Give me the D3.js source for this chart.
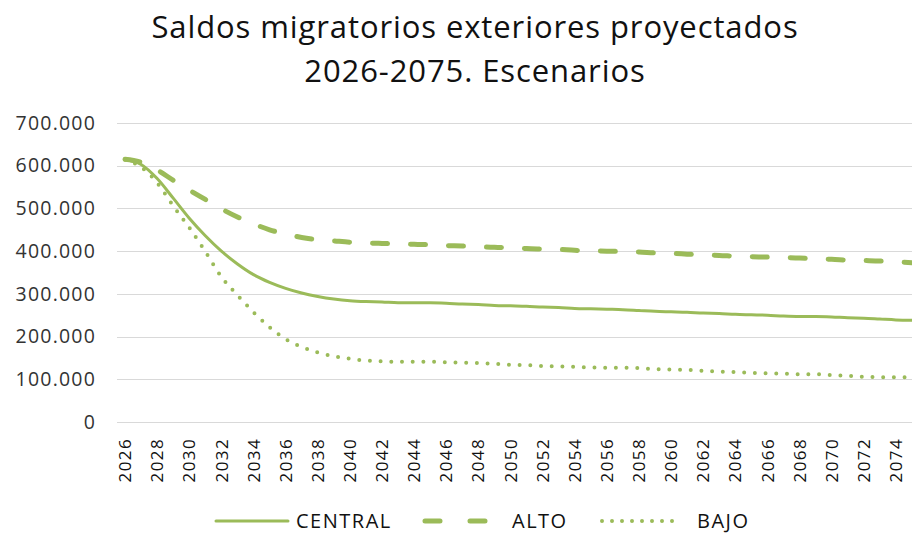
<!DOCTYPE html>
<html>
<head>
<meta charset="utf-8">
<script src="https://cdn.jsdelivr.net/npm/d3@7"></script>
<style>
  html, body { margin: 0; padding: 0; background: #fff; }
  svg { display: block; }
</style>
</head>
<body>
<svg id="chart" width="912" height="533"></svg>
<script>
// Projected external migration balances 2026-2075, three scenarios
const years = d3.range(2026, 2076);

const central = [
  614, 603, 570, 524, 477, 436, 400, 370, 345, 327,
  313, 302, 294, 288, 284, 282, 281, 279, 279, 279,
  278, 276, 275, 273, 272, 271, 269, 268, 266, 265,
  264, 263, 261, 259, 258, 257, 255, 254, 252, 251,
  250, 248, 247, 247, 246, 244, 243, 241, 239, 238
].map(v => v * 1000);

const alto = [
  615, 608, 590, 566, 543, 521, 499, 480, 464, 450,
  440, 432, 427, 424, 421, 419, 418, 417, 416, 415,
  413, 412, 410, 409, 408, 406, 405, 404, 402, 401,
  400, 399, 398, 396, 395, 393, 391, 390, 388, 387,
  386, 385, 384, 382, 381, 379, 378, 377, 375, 373
].map(v => v * 1000);

const bajo = [
  614, 597, 560, 506, 455, 399, 340, 297, 257, 222,
  194, 176, 163, 154, 148, 144, 142, 141, 141, 141,
  140, 139, 138, 136, 134, 133, 131, 130, 129, 128,
  127, 127, 126, 124, 123, 122, 120, 118, 117, 115,
  114, 113, 112, 112, 110, 108, 106, 105, 105, 104
].map(v => v * 1000);

const seriesNames = ["CENTRAL", "ALTO", "BAJO"];
const yTicks = [0, 100000, 200000, 300000, 400000, 500000, 600000, 700000];
const xTickYears = years.filter((y, i) => i % 2 === 0);
const titleLines = ["Saldos migratorios exteriores proyectados", "2026-2075. Escenarios"];

const green = "#9BBB59";
const FONT = "'Open Sans', sans-serif";
const styles = {
  CENTRAL: { width: 3, dash: null },
  ALTO: { width: 5, dash: "15,23" },
  BAJO: { width: 4, dash: "0,10.7" }
};

const svg = d3.select("#chart");
const W = 912, H = 533;
const plot = { left: 117, right: 920, top: 123, bottom: 422 };

const x = d3.scaleBand().domain(years).range([plot.left, plot.right]).padding(0);
const cx = yr => x(yr) + x.bandwidth() / 2;
const y = d3.scaleLinear().domain([0, 700000]).range([plot.bottom, plot.top]);

const es = d3.formatLocale({ decimal: ",", thousands: ".", grouping: [3], currency: ["", "€"] });
const fmt = es.format(",.0f");

// Title
svg.append("g").selectAll("text")
  .data(titleLines)
  .join("text")
  .attr("x", 475)
  .attr("y", (d, i) => 38 + i * 44)
  .attr("text-anchor", "middle")
  .attr("font-family", FONT)
  .attr("font-size", 31)
  .attr("letter-spacing", 0.9)
  .attr("fill", "#111")
  .text(d => d);

// Horizontal gridlines
svg.append("g")
  .selectAll("line")
  .data(yTicks)
  .join("line")
  .attr("x1", plot.left)
  .attr("x2", plot.right)
  .attr("y1", d => Math.round(y(d)) + 0.5)
  .attr("y2", d => Math.round(y(d)) + 0.5)
  .attr("stroke", "#d9d9d9")
  .attr("stroke-width", 1);

// Y axis labels
const yAxis = d3.axisLeft(y).tickValues(yTicks).tickFormat(d => fmt(d)).tickSize(0).tickPadding(0);
const gy = svg.append("g").attr("transform", `translate(96,0)`).call(yAxis);
gy.select(".domain").remove();
gy.selectAll("text")
  .attr("font-family", FONT)
  .attr("font-size", 19.5)
  .attr("letter-spacing", 1.2)
  .attr("fill", "#333");

// X axis labels (every second year, rotated)
const xAxis = d3.axisBottom(x).tickValues(xTickYears).tickSize(0).tickPadding(0);
const gx = svg.append("g").attr("transform", `translate(0,${plot.bottom})`).call(xAxis);
gx.select(".domain").remove();
gx.selectAll("text")
  .attr("font-family", FONT)
  .attr("font-size", 17)
  .attr("letter-spacing", 1.4)
  .attr("fill", "#111")
  .attr("text-anchor", "end")
  .attr("y", null)
  .attr("x", 0)
  .attr("transform", "translate(0,16) rotate(-90)")
  .attr("dy", "0.36em");

// Lines
const line = d3.line()
  .x((d, i) => cx(years[i]))
  .y(d => y(d))
  .curve(d3.curveMonotoneX);

const seriesData = { CENTRAL: central, ALTO: alto, BAJO: bajo };

svg.append("clipPath").attr("id", "plotclip")
  .append("rect").attr("x", 0).attr("y", 0).attr("width", W).attr("height", H);

svg.append("g").attr("clip-path", "url(#plotclip)")
  .selectAll("path")
  .data(seriesNames)
  .join("path")
  .attr("d", n => line(seriesData[n]))
  .attr("fill", "none")
  .attr("stroke", green)
  .attr("stroke-width", n => styles[n].width)
  .attr("stroke-dasharray", n => styles[n].dash)
  .attr("stroke-linecap", "round")
  .attr("stroke-linejoin", "round");

// Legend
const legendItems = [
  { name: "CENTRAL", x1: 216, x2: 288, tx: 296, dash: null },
  { name: "ALTO", x1: 425, x2: 488, tx: 512, dash: "15,30" },
  { name: "BAJO", x1: 602, x2: 680, tx: 697, dash: "0,10" }
];
const lg = svg.append("g");
lg.selectAll("line")
  .data(legendItems)
  .join("line")
  .attr("x1", d => d.x1)
  .attr("x2", d => d.x2)
  .attr("y1", 521)
  .attr("y2", 521)
  .attr("stroke", green)
  .attr("stroke-width", d => styles[d.name].width)
  .attr("stroke-dasharray", d => d.dash)
  .attr("stroke-linecap", "round");
lg.selectAll("text")
  .data(legendItems)
  .join("text")
  .attr("x", d => d.tx)
  .attr("y", 528)
  .attr("font-family", FONT)
  .attr("font-size", 20)
  .attr("letter-spacing", 1.5)
  .attr("fill", "#111")
  .text(d => d.name);
</script>
</body>
</html>
